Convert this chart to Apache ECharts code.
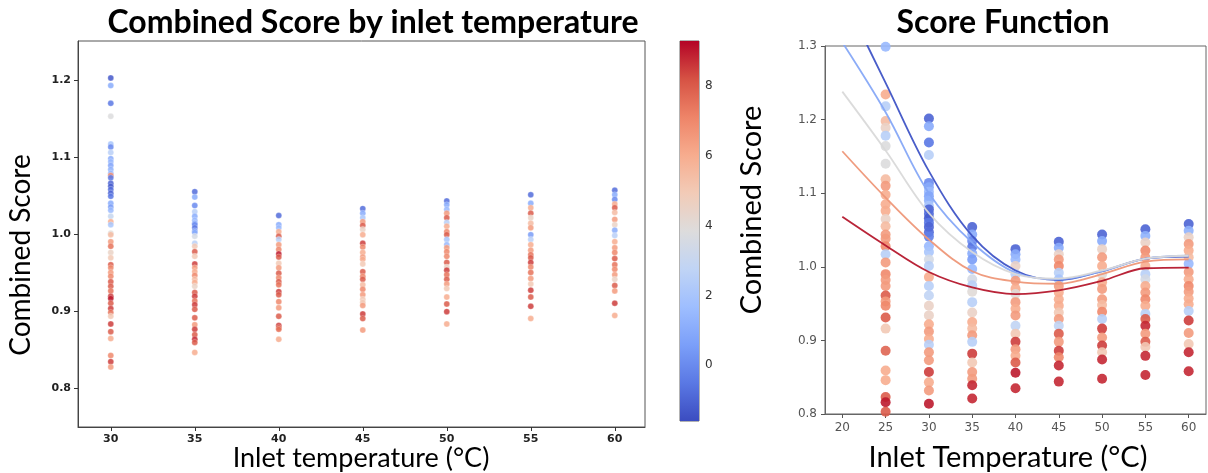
<!DOCTYPE html>
<html><head><meta charset="utf-8">
<script src="https://cdn.jsdelivr.net/npm/echarts@6/dist/echarts.min.js"></script>
<style>html,body{margin:0;padding:0;background:#fff}#c{width:1208px;height:473px}</style>
</head><body><div id="c"></div>
<script>
// ---------- data ----------
const leftX = [30, 35, 40, 45, 50, 55, 60];
const leftYTicks = [0.8, 0.9, 1.0, 1.1, 1.2];
// [combined score, colour value]
const left30 = [[1.203,-1.3],[1.193,1],[1.170,-0.5],[1.153,3.8],[1.117,2],[1.113,0],[1.106,2.5],[1.098,1],[1.094,1.5],[1.089,0.8],[1.084,1.2],[1.079,1.5],[1.076,7],[1.073,-0.5],[1.066,-1],[1.062,-1.2],[1.058,-0.8],[1.053,-1],[1.049,-0.5],[1.040,1],[1.035,0.5],[1.031,1.5],[1.023,3],[1.016,6],[1.012,2],[1.001,4],[0.999,5.5],[0.990,6.5],[0.984,7.5],[0.976,4.5],[0.969,5],[0.960,8],[0.956,7],[0.950,6.5],[0.945,7],[0.938,8],[0.932,8],[0.926,7.5],[0.919,8.5],[0.916,9],[0.910,8],[0.903,8.5],[0.898,7.5],[0.893,5],[0.883,8.5],[0.873,8],[0.864,6],[0.842,7],[0.834,8.5],[0.827,6.5]];
const left35 = [[1.055,-0.8],[1.048,1],[1.037,0],[1.029,2.5],[1.023,1],[1.018,1.5],[1.014,1],[1.012,0],[1.008,-0.5],[1.004,0.5],[1.002,1],[0.997,3.5],[0.988,2.5],[0.984,5],[0.977,8],[0.971,5],[0.961,8.5],[0.956,6.5],[0.951,6],[0.946,7],[0.941,5.5],[0.937,6],[0.932,4.5],[0.924,8],[0.919,8.5],[0.913,7.5],[0.908,8.5],[0.902,8],[0.891,8],[0.882,6.5],[0.876,8.5],[0.869,8],[0.863,8.8],[0.859,8],[0.846,6]];
const left40 = [[1.024,-0.8],[1.012,1],[1.008,1.5],[1.003,6],[0.997,8],[0.993,2.5],[0.986,6.5],[0.980,7],[0.974,9],[0.970,8],[0.962,5],[0.956,6.5],[0.949,8],[0.943,7],[0.938,8],[0.934,7.5],[0.925,8.5],[0.921,8],[0.912,7],[0.904,6.5],[0.893,8],[0.881,8.5],[0.878,8],[0.876,7.5],[0.863,6]];
const left45 = [[1.033,-0.8],[1.027,1],[1.021,2],[1.016,6.5],[1.011,8],[1.006,4.5],[0.999,6],[0.988,8.5],[0.983,7],[0.976,6],[0.970,6.5],[0.967,6],[0.961,5],[0.951,8],[0.945,7],[0.941,8],[0.934,5.5],[0.928,7],[0.921,6.5],[0.915,5],[0.911,5],[0.907,6.5],[0.896,8.5],[0.890,8],[0.875,6.5]];
const left50 = [[1.043,-0.8],[1.038,1],[1.032,1.5],[1.027,6.5],[1.021,8],[1.015,2.5],[1.010,6],[1.003,7],[0.999,8],[0.993,2],[0.986,1.5],[0.982,6.5],[0.977,7],[0.971,7],[0.963,8],[0.957,4.5],[0.953,8.5],[0.947,7.5],[0.941,8],[0.935,6.5],[0.929,5],[0.918,6],[0.909,8],[0.899,8.5],[0.883,6]];
const left55 = [[1.051,-0.8],[1.040,1],[1.034,6],[1.027,8],[1.021,4.5],[1.014,5.5],[1.008,6.5],[0.999,0.5],[0.993,2.5],[0.986,6],[0.979,6.5],[0.973,7.5],[0.969,8],[0.963,8.5],[0.957,7],[0.950,7.5],[0.942,6.5],[0.935,5],[0.927,8.5],[0.918,8],[0.906,8.5],[0.890,6]];
const left60 = [[1.057,-0.8],[1.051,1],[1.045,0],[1.039,6],[1.034,8],[1.028,5.5],[1.019,6.5],[1.012,4.5],[1.005,1],[0.998,2.5],[0.990,6],[0.982,6.5],[0.976,7],[0.968,8],[0.960,7.5],[0.954,7],[0.947,6.5],[0.941,4.5],[0.933,8],[0.926,6.5],[0.910,8.5],[0.894,6]];
const leftCols = [left30, left35, left40, left45, left50, left55, left60];

const colorbarTicks = [0, 2, 4, 6, 8];
const colorMin = -1.6, colorMax = 9.3;

const rightX = [25, 30, 35, 40, 45, 50, 55, 60];
const rightXTicks = [20, 25, 30, 35, 40, 45, 50, 55, 60];
const rightYTicks = [0.8, 0.9, 1.0, 1.1, 1.2, 1.3];
const right25 = [[1.299,1.5],[1.234,6],[1.218,2.5],[1.198,5.5],[1.189,4.5],[1.178,2.5],[1.164,3.8],[1.140,3.8],[1.119,5.5],[1.110,6.5],[1.098,6],[1.085,6],[1.076,6],[1.065,4.5],[1.055,5.5],[1.044,6.5],[1.038,6.5],[1.028,7],[1.017,2.5],[1.006,6.5],[0.990,7],[0.982,6.5],[0.974,6.5],[0.961,8],[0.953,6.5],[0.947,7],[0.931,8],[0.916,5],[0.886,7.8],[0.859,6],[0.846,6],[0.823,8],[0.816,9],[0.803,8]];
const right30 = [[1.2015,-1],[1.191,1],[1.169,-0.5],[1.152,2.5],[1.114,0],[1.108,1],[1.102,1.5],[1.096,0.8],[1.090,1.2],[1.083,2],[1.078,-1],[1.072,-0.8],[1.066,-1.2],[1.060,-0.5],[1.054,-1],[1.047,-0.8],[1.041,-0.3],[1.028,1.5],[1.020,2],[1.010,3.5],[1.001,2.5],[0.986,6],[0.974,2.5],[0.961,2.8],[0.947,4.5],[0.934,4.5],[0.922,6],[0.912,6.5],[0.902,6],[0.894,2.5],[0.884,6.5],[0.873,6.5],[0.857,8.5],[0.843,6],[0.832,6.5],[0.814,9]];
const right35 = [[1.054,-1],[1.044,1],[1.035,0],[1.027,-0.5],[1.018,1],[1.010,0.5],[0.997,1.5],[0.983,3.5],[0.975,2.5],[0.966,4],[0.952,2.5],[0.938,4.5],[0.925,6],[0.916,5.5],[0.907,6.5],[0.898,2.5],[0.882,8.5],[0.870,5],[0.857,6.5],[0.848,6.5],[0.839,8.8],[0.821,8.8]];
const right40 = [[1.024,-1],[1.017,1],[1.010,1.5],[1.001,4.5],[0.990,2.5],[0.981,6.5],[0.970,6],[0.963,4],[0.952,6.5],[0.943,6],[0.934,6.5],[0.920,2.8],[0.909,5],[0.898,8.5],[0.888,6.5],[0.879,6],[0.870,8],[0.856,9],[0.835,8.8]];
const right45 = [[1.034,-1],[1.026,1],[1.017,4.5],[1.010,6.5],[1.001,7],[0.992,2.5],[0.983,2],[0.974,6.5],[0.965,6],[0.956,6],[0.947,6],[0.938,5],[0.929,6.5],[0.920,2.8],[0.909,8],[0.898,6.5],[0.886,8.5],[0.877,7],[0.866,8.8],[0.844,8.8]];
const right50 = [[1.044,-1],[1.035,1],[1.024,4.5],[1.013,6.5],[1.001,6],[0.990,4],[0.979,6],[0.970,6.5],[0.956,6.5],[0.948,5.5],[0.939,7],[0.929,2.5],[0.916,8.5],[0.904,6.5],[0.893,8.5],[0.884,5],[0.874,8.8],[0.848,8.8]];
const right55 = [[1.051,-1],[1.042,1.2],[1.033,4.5],[1.022,7],[1.013,6.5],[1.001,6],[0.990,2.5],[0.983,3.5],[0.974,6],[0.965,6.5],[0.956,7],[0.947,6],[0.936,2.5],[0.929,8],[0.920,8.8],[0.909,6.5],[0.898,8],[0.891,5],[0.879,8.8],[0.853,8.8]];
const right60 = [[1.058,-1],[1.049,1.2],[1.040,4.5],[1.031,6.5],[1.022,6],[1.013,5.5],[1.004,1.5],[0.993,6.5],[0.983,6],[0.974,7],[0.966,6.5],[0.957,6],[0.949,6],[0.940,2.5],[0.927,8.5],[0.910,6.5],[0.895,5],[0.884,8.8],[0.858,8.8]];
const rightCols = [right25, right30, right35, right40, right45, right50, right55, right60];

const curveX = [20, 25, 30, 35, 40, 45, 50, 55, 60];
const curveDarkBlue  = [1.37, 1.25, 1.13, 1.042, 0.995, 0.982, 0.994, 1.011, 1.014];
const curveLightBlue = [1.305, 1.21, 1.10, 1.033, 0.992, 0.983, 0.994, 1.011, 1.015];
const curveGrey      = [1.238, 1.158, 1.073, 1.02, 0.99, 0.984, 0.995, 1.011, 1.015];
const curveOrange    = [1.157, 1.094, 1.037, 0.994, 0.980, 0.977, 0.990, 1.007, 1.010];
const curveRed       = [1.068, 1.029, 0.993, 0.972, 0.963, 0.968, 0.981, 0.998, 0.999];

// ---------- build ----------
const coolwarm = ['#3b4cc0','#5a78e4','#7b9ff9','#9ebeff','#c0d4f5','#dddcdc','#f2cbb7','#f7ac8e','#ee8468','#d65244','#b40426'];
const leftData = [];
leftCols.forEach((col, i) => col.forEach(p => leftData.push([leftX[i], p[0], p[1]])));
const rightData = [];
rightCols.forEach((col, i) => col.forEach(p => rightData.push([rightX[i], p[0], p[1]])));
const zip = arr => curveX.map((x, i) => [x, arr[i]]);

const chart = echarts.init(document.getElementById('c'), null, {renderer: 'canvas'});
const tickFont = 'DejaVu Sans';
const labelFont = 'Lato';

function lineSeries(arr, color) {
  return {type: 'line', xAxisIndex: 2, yAxisIndex: 2, data: zip(arr), smooth: 0.35, showSymbol: false,
    symbol: 'none', clip: true, lineStyle: {color: color, width: 1.8, opacity: 0.95}, z: 5, silent: true};
}

chart.setOption({
  animation: false,
  grid: [
    {left: 78, top: 41, width: 567, height: 386, show: true, borderColor: '#555', borderWidth: 1, backgroundColor: '#fff'},
    {left: 680, top: 41, width: 19, height: 380, show: true, borderColor: '#666', borderWidth: 1},
    {left: 825, top: 46, width: 381, height: 368, show: true, borderColor: '#666', borderWidth: 1}
  ],
  xAxis: [
    {gridIndex: 0, type: 'value', min: 28.05, max: 61.8, splitLine: {show: false},
     axisLine: {show: true, onZero: false, lineStyle: {color: '#444'}},
     axisTick: {show: true, customValues: leftX, length: 4, lineStyle: {color: '#333'}},
     axisLabel: {customValues: leftX, fontFamily: tickFont, fontWeight: 'bold', fontSize: 11, color: '#222', margin: 7}},
    {gridIndex: 1, type: 'value', min: 0, max: 1, show: false},
    {gridIndex: 2, type: 'value', min: 18, max: 62, splitLine: {show: false},
     axisLine: {show: true, onZero: false, lineStyle: {color: '#666'}},
     axisTick: {show: true, customValues: rightXTicks, length: 4, lineStyle: {color: '#555'}},
     axisLabel: {customValues: rightXTicks, fontFamily: tickFont, fontSize: 12, color: '#555', margin: 8}}
  ],
  yAxis: [
    {gridIndex: 0, type: 'value', min: 0.749, max: 1.251, splitLine: {show: false},
     axisLine: {show: true, onZero: false, lineStyle: {color: '#444'}},
     axisTick: {show: true, customValues: leftYTicks, length: 4, lineStyle: {color: '#333'}},
     axisLabel: {customValues: leftYTicks, formatter: v => v.toFixed(1), fontFamily: tickFont, fontWeight: 'bold', fontSize: 11, color: '#222', margin: 7}},
    {gridIndex: 1, type: 'value', min: colorMin, max: colorMax, position: 'right', splitLine: {show: false},
     axisLine: {show: false},
     axisTick: {show: true, customValues: colorbarTicks, length: 4, lineStyle: {color: '#444'}},
     axisLabel: {customValues: colorbarTicks, fontFamily: tickFont, fontSize: 12, color: '#333', margin: 6}},
    {gridIndex: 2, type: 'value', min: 0.8, max: 1.3, splitLine: {show: false},
     axisLine: {show: true, onZero: false, lineStyle: {color: '#666'}},
     axisTick: {show: true, customValues: rightYTicks, length: 4, lineStyle: {color: '#555'}},
     axisLabel: {customValues: rightYTicks, formatter: v => v.toFixed(1), fontFamily: tickFont, fontSize: 12, color: '#555', margin: 8}}
  ],
  visualMap: [
    {type: 'continuous', show: false, min: colorMin, max: colorMax, dimension: 2, seriesIndex: [0], inRange: {color: coolwarm}},
    {type: 'continuous', show: false, min: colorMin, max: colorMax, dimension: 2, seriesIndex: [1], inRange: {color: coolwarm}}
  ],
  series: [
    {type: 'scatter', xAxisIndex: 0, yAxisIndex: 0, data: leftData, symbolSize: 6,
     itemStyle: {opacity: 0.85, borderColor: 'rgba(255,255,255,0.6)', borderWidth: 0.5}, silent: true},
    {type: 'scatter', xAxisIndex: 2, yAxisIndex: 2, data: rightData, symbolSize: 10, clip: true,
     itemStyle: {opacity: 0.9}, silent: true, z: 3},
    {type: 'custom', xAxisIndex: 1, yAxisIndex: 1, data: [[0, colorMin, colorMax]], silent: true,
     renderItem: (params, api) => {
       const p0 = api.coord([0, api.value(1)]);
       const p1 = api.coord([1, api.value(2)]);
       return {type: 'rect', shape: {x: p0[0], y: p1[1], width: p1[0] - p0[0], height: p0[1] - p1[1]},
         style: {fill: new echarts.graphic.LinearGradient(0, 1, 0, 0,
           coolwarm.map((c, i) => ({offset: i / (coolwarm.length - 1), color: c})))}};
     }},
    lineSeries(curveDarkBlue, '#3f54c6'),
    lineSeries(curveLightBlue, '#86a8f7'),
    lineSeries(curveGrey, '#d9d9d9'),
    lineSeries(curveOrange, '#ee9778'),
    lineSeries(curveRed, '#b5182d')
  ],
  graphic: [
    {type: 'text', x: 373, y: 23, z: 100, style: {text: 'Combined Score by inlet temperature', font: 'bold 32px ' + labelFont, fill: '#000', align: 'center', verticalAlign: 'middle'}},
    {type: 'text', x: 1003, y: 23, z: 100, style: {text: 'Score Function', font: 'bold 32px ' + labelFont, fill: '#000', align: 'center', verticalAlign: 'middle'}},
    {type: 'text', x: 21, y: 255, rotation: Math.PI / 2, style: {text: 'Combined Score', font: '28px ' + labelFont, fill: '#000', align: 'center', verticalAlign: 'middle'}},
    {type: 'text', x: 361, y: 458, style: {text: 'Inlet temperature (°C)', font: '27px ' + labelFont, fill: '#000', align: 'center', verticalAlign: 'middle'}},
    {type: 'text', x: 752, y: 210, rotation: Math.PI / 2, style: {text: 'Combined Score', font: '29px ' + labelFont, fill: '#000', align: 'center', verticalAlign: 'middle'}},
    {type: 'text', x: 1008, y: 458, style: {text: 'Inlet Temperature (°C)', font: '29px ' + labelFont, fill: '#000', align: 'center', verticalAlign: 'middle'}}
  ]
});
</script></body></html>
